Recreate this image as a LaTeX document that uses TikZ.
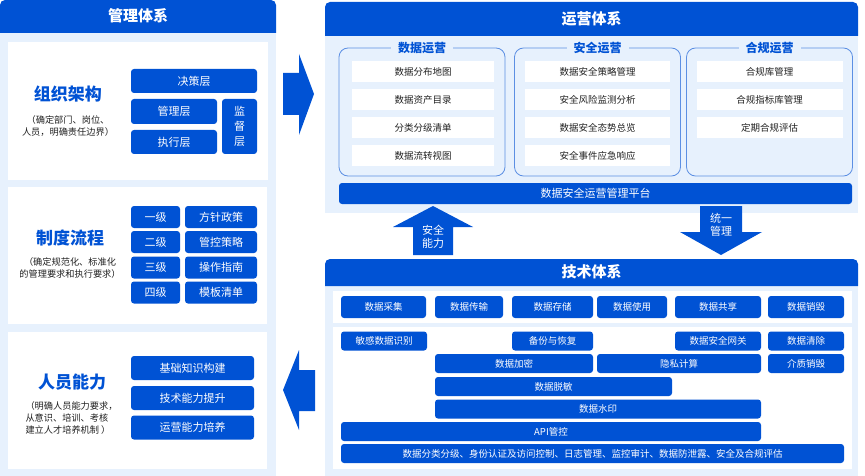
\documentclass[tikz,border=0pt]{standalone}
\usepackage{fontspec}
\setmainfont{Noto Sans CJK SC}
\definecolor{shenlan}{HTML}{0052D4}
\definecolor{qianlan}{HTML}{E7F1FD}
\definecolor{kuang}{HTML}{5C8FE3}
\definecolor{wenzi}{HTML}{222222}

\begin{document}
\begin{tikzpicture}[x=1pt, y=-1pt,
  lankuai/.style={fill=shenlan, text=white, rounded corners=3pt, inner sep=0pt, font=\fontsize{11}{13}\selectfont},
  baikuai/.style={fill=white, text=wenzi, inner sep=0pt, font=\fontsize{9.5}{11}\selectfont},
  jishu/.style={lankuai, font=\fontsize{9.5}{11}\selectfont},
  biaoti/.style={text=white, font=\bfseries\fontsize{15}{17}\selectfont},
  zhuti/.style={text=shenlan, font=\bfseries\fontsize{17}{19}\selectfont},
  shuoming/.style={text=wenzi, align=center, font=\fontsize{9.2}{12}\selectfont},
  zubiao/.style={fill=qianlan, text=shenlan, inner xsep=7pt, inner ysep=1pt, font=\bfseries\fontsize{12}{14}\selectfont},
  jiantou/.style={text=white, align=center, font=\fontsize{11}{13.5}\selectfont}]
  \useasboundingbox (0,0) rectangle (865,476);

  % --- 管理体系 ---
  \fill[qianlan] (0,33) rectangle (276,476);
  \fill[shenlan] (0,33) [rounded corners=5pt] -- (0,0) -- (276,0) [sharp corners] -- (276,33) -- cycle;
  \node[biaoti] (guanli) at (138,16) {管理体系};
  \fill[white] (8,42) rectangle (268,180);
  \fill[white] (8,187) rectangle (267,324);
  \fill[white] (8,332) rectangle (267,469);

  % 组织架构
  \node[zhuti] (zuzhi) at (68,94) {组织架构};
  \node[shuoming] (zuzhism) at (68,126) {（确定部门、岗位、\\人员，明确责任边界）};
  \node[lankuai, minimum width=126, minimum height=24] (juece) at (194,81) {决策层};
  \node[lankuai, minimum width=86, minimum height=25] (guanlic) at (174,111.5) {管理层};
  \node[lankuai, minimum width=86, minimum height=24] (zhixing) at (174,142) {执行层};
  \node[lankuai, minimum width=35, minimum height=55, align=center,
        font=\fontsize{11}{15}\selectfont] (jiandu) at (239.5,126.5) {监\\督\\层};

  % 制度流程
  \node[zhuti] (zhidu) at (70,238) {制度流程};
  \node[shuoming] (zhidusm) at (70,268) {（确定规范化、标准化\\的管理要求和执行要求）};
  \foreach \y/\ji/\wen [count=\i] in {217/一级/方针政策, 242/二级/管控策略, 267.5/三级/操作指南, 292.5/四级/模板清单} {
    \node[lankuai, minimum width=49, minimum height=22] (ji\i) at (155.5,\y) {\ji};
    \node[lankuai, minimum width=72, minimum height=22] (wj\i) at (221,\y) {\wen};
  }

  % 人员能力
  \node[zhuti] (renyuan) at (72,382) {人员能力};
  \node[shuoming, align=left, anchor=west] (renyuansm) at (22,418) {（明确人员能力要求，\\从意识、培训、考核\\建立人才培养机制 ）};
  \foreach \y/\t [count=\i] in {368/基础知识构建, 398/技术能力提升, 427.5/运营能力培养}
    \node[lankuai, minimum width=123, minimum height=24] (nl\i) at (192.5,\y) {\t};

  % 左右块箭头
  \fill[shenlan] (283,73) -- (299,73) -- (299,54) -- (314,94) -- (299,135) -- (299,115) -- (283,115) -- cycle;
  \fill[shenlan] (315,370) -- (299,370) -- (299,350) -- (283,390) -- (299,430) -- (299,411) -- (315,411) -- cycle;

  % --- 运营体系 ---
  \fill[qianlan] (325,36) rectangle (858,213);
  \fill[shenlan] (325,36) [rounded corners=5pt] -- (325,2) -- (858,2) [sharp corners] -- (858,36) -- cycle;
  \node[biaoti] (yunying) at (591.5,19) {运营体系};

  \foreach \gx in {422, 597.5, 769.5}
    \draw[kuang, line width=0.8pt, rounded corners=9pt] (\gx-83,48) rectangle (\gx+83,176);
  \node[zubiao] (shujuyy) at (422,48) {数据运营};
  \node[zubiao] (anquanyy) at (597.5,48) {安全运营};
  \node[zubiao] (heguiyy) at (769.5,48) {合规运营};

  \foreach \t [count=\i] in {数据分布地图, 数据资产目录, 分类分级清单, 数据流转视图}
    \node[baikuai, minimum width=142, minimum height=21] (sj\i) at (423,44+28*\i) {\t};
  \foreach \t [count=\i] in {数据安全策略管理, 安全风险监测分析, 数据安全态势总览, 安全事件应急响应}
    \node[baikuai, minimum width=145, minimum height=21] (aq\i) at (597.5,44+28*\i) {\t};
  \foreach \t [count=\i] in {合规库管理, 合规指标库管理, 定期合规评估}
    \node[baikuai, minimum width=146, minimum height=21] (hg\i) at (769.5,44+28*\i) {\t};

  \node[lankuai, minimum width=513, minimum height=21] (pingtai) at (595.5,193.5) {数据安全运营管理平台};

  % 上下块箭头
  \fill[shenlan] (413,255) -- (413,227) -- (393,227) -- (433,206) -- (473,227) -- (453,227) -- (453,255) -- cycle;
  \node[jiantou] (anquannl) at (433,237) {安全\\能力};
  \fill[shenlan] (700,206) -- (742,206) -- (742,232) -- (762,232) -- (721,255) -- (680,232) -- (700,232) -- cycle;
  \node[jiantou] (tongyi) at (721,225) {统一\\管理};

  % --- 技术体系 ---
  \fill[qianlan] (325,286) rectangle (858,476);
  \fill[shenlan] (325,286) [rounded corners=5pt] -- (325,259) -- (858,259) [sharp corners] -- (858,286) -- cycle;
  \node[biaoti] (jishu) at (591.5,272) {技术体系};
  \fill[white] (333,291) rectangle (852,323);
  \fill[white] (333,327) rectangle (852,469);

  % 生命周期
  \foreach \x/\w/\t [count=\i] in {383.5/85/数据采集, 469/68/数据传输, 552.5/81/数据存储,
                                   632/70/数据使用, 718/86/数据共享, 806/76/数据销毁}
    \node[jishu, minimum width=\w, minimum height=22] (sm\i) at (\x,307) {\t};

  % 技术能力
  \foreach \x/\y/\w/\t [count=\i] in {384/341/86/敏感数据识别, 552.5/341/81/备份与恢复,
      718/341/86/数据安全网关, 806/341/76/数据清除, 514/363.5/158/数据加密,
      679/363.5/164/隐私计算, 806/363.5/76/介质销毁, 553.5/386.5/237/数据脱敏,
      598/409/326/数据水印, 551/431.5/420/API管控}
    \node[jishu, minimum width=\w, minimum height=19] (js\i) at (\x,\y) {\t};
  \node[jishu, minimum width=503, minimum height=19] (jichu) at (592.5,453.5)
    {数据分类分级、身份认证及访问控制、日志管理、监控审计、数据防泄露、安全及合规评估};
\end{tikzpicture}
\end{document}
